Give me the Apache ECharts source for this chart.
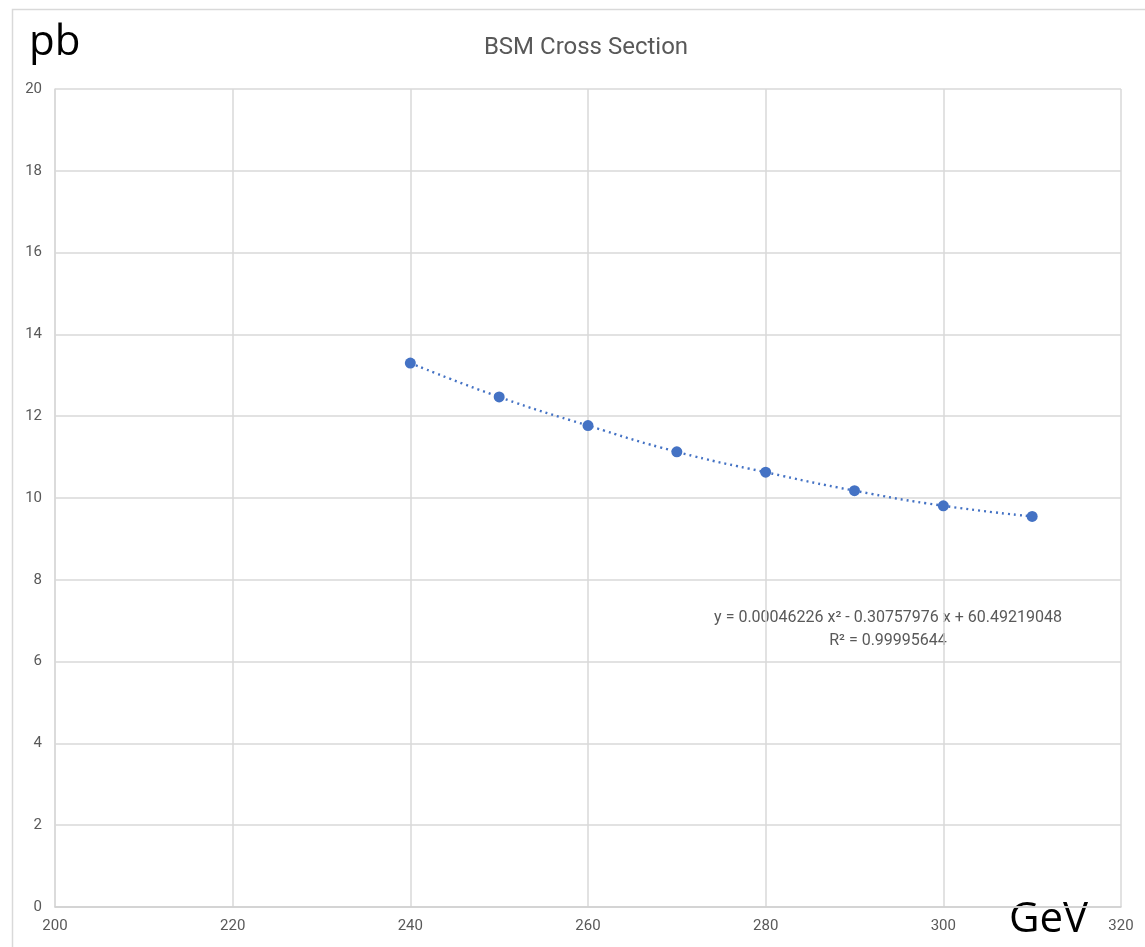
<!DOCTYPE html>
<html>
<head>
<meta charset="utf-8">
<script src="https://cdn.jsdelivr.net/npm/echarts@6/dist/echarts.min.js"></script>
<style>html,body{margin:0;padding:0;background:#fff;}#chart{width:1145px;height:947px;}</style>
</head>
<body>
<div id="chart"></div>
<script>
const energies = [240, 250, 260, 270, 280, 290, 300, 310];
const crossSections = [13.30, 12.47, 11.77, 11.13, 10.63, 10.18, 9.81, 9.55];
const titleText = 'BSM Cross Section';
const yUnit = 'pb';
const xUnit = 'GeV';
const fitText = 'y = 0.00046226 x² - 0.30757976 x + 60.49219048';
const r2Text = 'R² = 0.99995644';

const points = energies.map((e, i) => [e, crossSections[i]]);
const chart = echarts.init(document.getElementById('chart'));
const gray = '#595959';
chart.setOption({
  animation: false,
  title: {
    text: titleText, left: 581, top: 31, textAlign: 'center',
    textStyle: { fontFamily: 'Roboto, sans-serif', fontSize: 24, fontWeight: 'normal', color: gray }
  },
  grid: { left: 55, right: 24, top: 89, bottom: 40 },
  xAxis: {
    type: 'value', min: 200, max: 320, interval: 20,
    axisLine: { show: true, lineStyle: { color: '#cfcfcf', width: 1.5 } },
    axisTick: { show: false },
    splitLine: { show: true, lineStyle: { color: '#d9d9d9', width: 1.5 } },
    axisLabel: { color: gray, fontSize: 15, fontFamily: 'Roboto, sans-serif', margin: 12 }
  },
  yAxis: {
    type: 'value', min: 0, max: 20, interval: 2,
    axisLine: { show: true, lineStyle: { color: '#d9d9d9', width: 1.5 } },
    axisTick: { show: false },
    splitLine: { show: true, lineStyle: { color: '#d9d9d9', width: 1.5 } },
    axisLabel: { color: gray, fontSize: 15, fontFamily: 'Roboto, sans-serif', margin: 13 }
  },
  series: [
    {
      type: 'line', data: points, smooth: true, symbol: 'none', z: 2,
      lineStyle: { color: '#4472C4', width: 2.4, type: [2, 4] }
    },
    {
      type: 'scatter', data: points, symbol: 'circle', symbolSize: 11, z: 3,
      itemStyle: { color: '#4472C4', opacity: 1 }
    }
  ],
  graphic: [
    { type: 'rect', shape: { x: 12.5, y: 9.5, width: 1300, height: 1100 }, style: { fill: 'none', stroke: '#d9d9d9', lineWidth: 1.5 }, silent: true, z: -1 },
    { type: 'text', left: 29, top: 22, style: { text: yUnit, fontSize: 42, fontFamily: 'Open Sans, sans-serif', fill: '#000' } },
    { type: 'text', left: 1009, top: 899, style: { text: xUnit, fontSize: 42, fontFamily: 'Open Sans, sans-serif', fill: '#000' } },
    { type: 'text', x: 888, y: 618, style: { text: fitText, fontSize: 16, fontFamily: 'Roboto, sans-serif', fill: gray, align: 'center', verticalAlign: 'middle' } },
    { type: 'text', x: 888, y: 641, style: { text: r2Text, fontSize: 16, fontFamily: 'Roboto, sans-serif', fill: gray, align: 'center', verticalAlign: 'middle' } }
  ]
});
</script>
</body>
</html>
